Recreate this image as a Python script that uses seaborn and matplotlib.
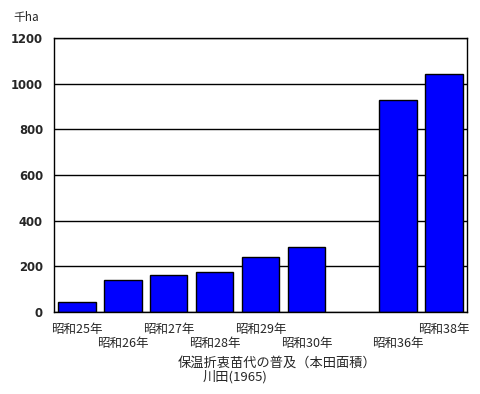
import matplotlib
matplotlib.use("Agg")
import matplotlib.pyplot as plt
import seaborn as sns
import pandas as pd
import numpy as np

categories = ["昭和25年", "昭和26年", "昭和27年", "昭和28年", "昭和29年", "昭和30年", "", "昭和36年", "昭和38年"]
values = [43, 139, 162, 174, 241, 286, None, 928, 1041]
yticks = [0, 200, 400, 600, 800, 1000, 1200]
unit_label = "千ha"
title_lines = ["保温折衷苗代の普及（本田面積）", "川田(1965)"]

sns.set_theme(style="white")
plt.rcParams['font.family'] = ['Noto Sans CJK JP', 'DejaVu Sans']

df = pd.DataFrame({"cat": categories, "val": values}).dropna()

fig = plt.figure(figsize=(4.8, 3.94), dpi=100)
ax = fig.add_axes([54/480, 1 - 312/394, (467-54)/480, (312-38)/394])

sns.barplot(data=df, x="cat", y="val", order=categories, color="#0000FF",
            saturation=1, width=0.815, edgecolor="black", linewidth=1.0, ax=ax)
ax.set_xlim(-0.5, len(categories) - 0.5)
ax.set_ylim(0, 1200)
ax.set_yticks(yticks)
ax.set_yticklabels([str(v) for v in yticks], fontfamily="DejaVu Sans",
                   fontweight="bold", fontsize=8.4)
ax.tick_params(axis="y", length=0, pad=8)
ax.tick_params(axis="x", length=0)
ax.set_xticklabels([])
ax.set_xlabel("")
ax.set_ylabel("")
for y in yticks:
    ax.axhline(y, color="black", linewidth=1.0, zorder=0)
for s in ax.spines.values():
    s.set_visible(True)
    s.set_color("black")
    s.set_linewidth(1.0)

xtr = ax.get_xaxis_transform()
for i, c in enumerate(categories):
    if not c:
        continue
    ypix = 329.5 if i % 2 == 0 else 343
    yax = -(ypix - 312) / (312 - 38)
    ax.text(i, yax, c, transform=xtr, ha="center", va="center", fontsize=9)

fig.text(13/480, 1 - 18/394, unit_label, ha="left", va="center", fontsize=8.5)
fig.text(277/480, 1 - 363/394, title_lines[0], ha="center", va="center", fontsize=9.5)
fig.text(235/480, 1 - 377/394, title_lines[1], ha="center", va="center", fontsize=9.5)

fig.savefig("out.png", dpi=100)
